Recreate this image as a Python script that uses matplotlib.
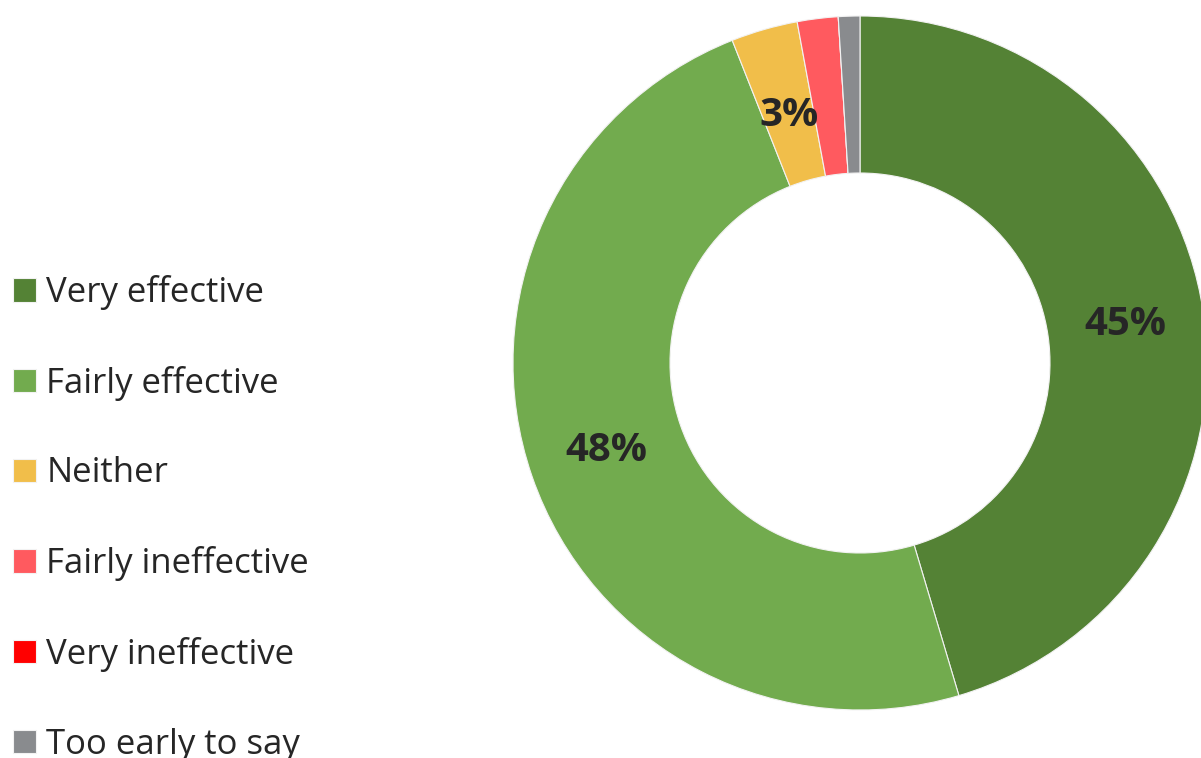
import matplotlib
matplotlib.use("Agg")
import matplotlib.pyplot as plt
import numpy as np

categories = ["Very effective", "Fairly effective", "Neither",
              "Fairly ineffective", "Very ineffective", "Too early to say"]
values = [45.4, 48.6, 3.1, 1.9, 0.0, 1.0]
shown_labels = ["45%", "48%", "3%", None, None, None]
colors = ["#548235", "#72AB4E", "#F1BE4A", "#FF5A5F", "#FF0000", "#898B8E"]

plt.rcParams['font.family'] = ['Open Sans', 'DejaVu Sans']

W, H = 1201, 758
fig = plt.figure(figsize=(W / 100, H / 100), dpi=100)
cx, cy, R = 860, 363, 347
ax = fig.add_axes([(cx - R) / W, (H - cy - R) / H, 2 * R / W, 2 * R / H])

inner = 190 / 347
wedges, _ = ax.pie(values, colors=colors, startangle=90, counterclock=False,
                   radius=1, wedgeprops=dict(width=1 - inner, edgecolor='#f2f2f2',
                                             linewidth=0.8),
                   frame=True)
ax.set_xlim(-1, 1)
ax.set_ylim(-1, 1)
ax.set_aspect('equal')
ax.axis('off')

rmid = (1 + inner) / 2
for w, lab in zip(wedges, shown_labels):
    if lab is None:
        continue
    ang = np.deg2rad((w.theta1 + w.theta2) / 2)
    rr = rmid if lab != "3%" else rmid * 0.96
    ax.text(rr * np.cos(ang), rr * np.sin(ang), lab, ha='center', va='center',
            fontsize=29, fontweight='bold', color='#262626')

leg = fig.legend(wedges, categories, loc='upper left',
                 bbox_to_anchor=(13 / W, 1 - 275 / H), frameon=False,
                 fontsize=25, handlelength=0.66, handleheight=0.66,
                 handletextpad=0.3, labelspacing=1.605, borderaxespad=0,
                 borderpad=0, labelcolor='#262626')

fig.savefig("out.png", dpi=100)
